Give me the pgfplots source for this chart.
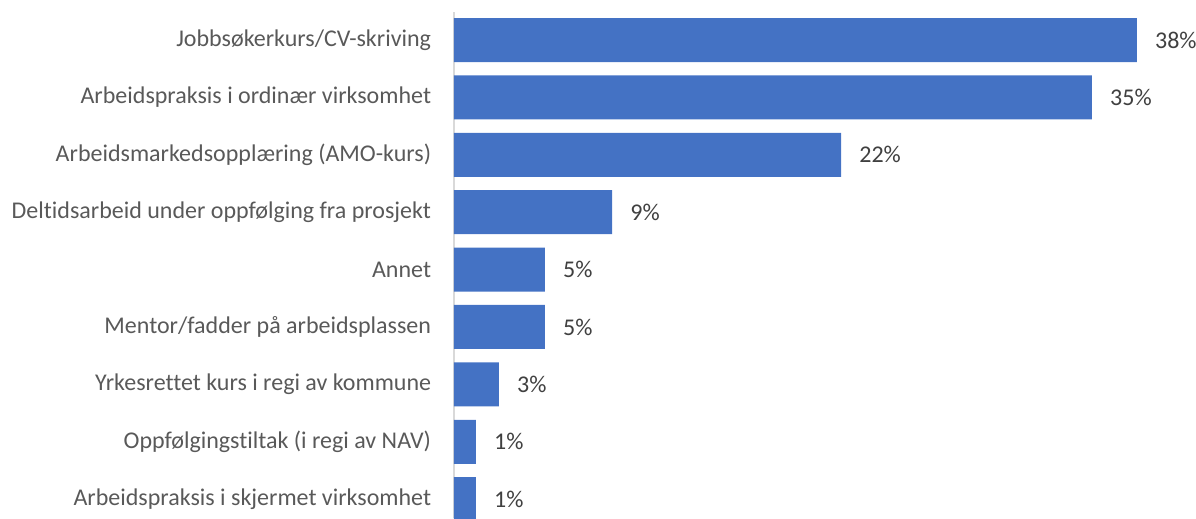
\documentclass[border=0pt]{standalone}
\usepackage{pgfplots}
\pgfplotsset{compat=1.18}
\usepackage{pgfplotstable}
\usepackage{fontspec}
\setmainfont{Carlito}[Ligatures=NoCommon]
\definecolor{barblue}{HTML}{4472C4}
\definecolor{lbl}{HTML}{595959}
\definecolor{vlbl}{HTML}{404040}
\definecolor{axgray}{HTML}{D9D9D9}
\pgfplotstableread{
y x lab
0 38.0 38\%
1 35.5 35\%
2 21.54 22\%
3 8.8 9\%
4 5.06 5\%
5 5.06 5\%
6 2.5 3\%
7 1.22 1\%
8 1.22 1\%
}\datatable
\begin{document}
\begin{tikzpicture}[x=1pt,y=1pt]
\begin{axis}[
  scale only axis,
  width=556.5pt, height=379.5pt,
  xmin=0, xmax=41.29,
  ymin=-0.488, ymax=8.328,
  y dir=reverse,
  xbar, bar width=33pt, bar shift=0pt,
  axis x line=none,
  axis y line*=left,
  y axis line style={draw=axgray, line width=1.5pt},
  ytick={0,1,2,3,4,5,6,7,8},
  yticklabels={Jobbsøkerkurs/CV-skriving,Arbeidspraksis i ordinær virksomhet,Arbeidsmarkedsopplæring (AMO-kurs),Deltidsarbeid under oppfølging fra prosjekt,Annet,Mentor/fadder på arbeidsplassen,Yrkesrettet kurs i regi av kommune,Oppfølgingstiltak (i regi av NAV),Arbeidspraksis i skjermet virksomhet},
  major tick length=0pt,
  yticklabel style={font=\fontsize{18pt}{20pt}\selectfont, text=lbl, inner sep=0pt, xshift=-17pt, anchor=east},
  point meta=explicit symbolic,
  nodes near coords,
  nodes near coords style={font=\fontsize{18pt}{20pt}\selectfont, text=vlbl, anchor=west, inner sep=0pt, xshift=13.5pt},
  clip=false,
]
\addplot[fill=barblue, draw=none] table[x=x, y=y, meta=lab] {\datatable};
\end{axis}
\pgfresetboundingbox
\path (current axis.south west) ++(-340.5pt,0) rectangle ([yshift=9pt]current axis.north east);
\end{tikzpicture}
\end{document}
